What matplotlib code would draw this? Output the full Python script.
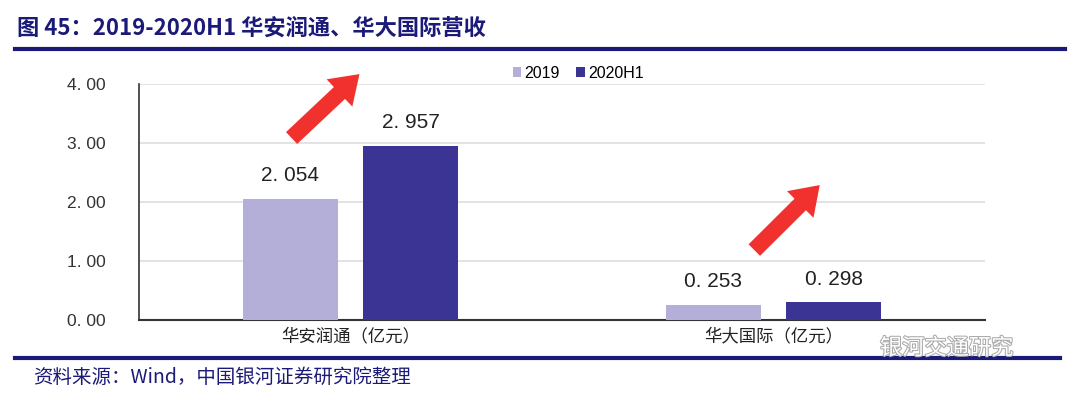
import numpy as np
import matplotlib.pyplot as plt
import matplotlib.patheffects as pe

plt.rcParams['font.family'] = ['Noto Sans CJK SC', 'DejaVu Sans']
num_font = ['Liberation Sans', 'DejaVu Sans']

categories = ['华安润通（亿元）', '华大国际（亿元）']
series_names = ['2019', '2020H1']
values_2019 = [2.054, 0.253]
values_2020h1 = [2.957, 0.298]
yticks = [0.0, 1.0, 2.0, 3.0, 4.0]

c_light = '#b4afd8'
c_dark = '#3b3494'
navy = '#1c1a78'

fig = plt.figure(figsize=(10.8, 3.97), dpi=100)
ax = fig.add_axes([139 / 1080, 1 - 320 / 397, 846 / 1080, 236 / 397])

x = np.arange(len(categories))
w = 0.225
off = 0.142
b1 = ax.bar(x - off, values_2019, w, color=c_light, label=series_names[0], zorder=3)
b2 = ax.bar(x + off, values_2020h1, w, color=c_dark, label=series_names[1], zorder=3)

for bars, vals in [(b1, values_2019), (b2, values_2020h1)]:
    for r, v in zip(bars, vals):
        ax.annotate('{:.3f}'.format(v).replace('.', '. '),
                    (r.get_x() + r.get_width() / 2, v),
                    xytext=(0, 10), textcoords='offset points',
                    ha='center', va='bottom', fontsize=15, color='#222222',
                    family=num_font)

ax.set_xlim(-0.5, 1.5)
ax.set_ylim(0, 4)
ax.set_yticks(yticks)
ax.set_yticklabels(['{:.2f}'.format(t).replace('.', '. ') for t in yticks],
                   fontsize=12.5, color='#333333', family=num_font)
ax.set_xticks(x)
ax.set_xticklabels(categories, fontsize=12.5, color='#222222')
ax.tick_params(axis='both', length=0)
ax.tick_params(axis='y', pad=24)
ax.tick_params(axis='x', pad=5)
ax.grid(axis='y', color='#dedede', linewidth=1.2, zorder=0)
for s in ['top', 'right']:
    ax.spines[s].set_visible(False)
ax.spines['left'].set_color('#333333')
ax.spines['bottom'].set_color('#333333')
ax.spines['left'].set_linewidth(1.2)
ax.spines['bottom'].set_linewidth(1.5)

# red arrows showing growth
for (x0, y0), (x1, y1) in [((0.178, 0.763), (0.263, 1.05)),
                           ((0.725, 0.288), (0.807, 0.58))]:
    ax.annotate('', xy=(x1, y1), xytext=(x0, y0), xycoords='axes fraction',
                annotation_clip=False,
                arrowprops=dict(arrowstyle='simple,head_length=1.1,head_width=1.5,tail_width=0.65',
                                mutation_scale=18, color='#f0312d', lw=0))

fig.legend(handles=[b1, b2], labels=series_names, loc='center',
           bbox_to_anchor=(578 / 1080, 1 - 73 / 397), ncol=2, frameon=False,
           fontsize=11.5, handlelength=0.55, handleheight=0.55, handletextpad=0.2,
           columnspacing=1.0, prop={'family': num_font, 'size': 11.5})

fig.text(17 / 1080, 1 - 28 / 397, '图 45：2019-2020H1 华安润通、华大国际营收',
         fontsize=16, fontweight='bold', color=navy, va='center', ha='left')
fig.add_artist(plt.Line2D([15 / 1080, 1065 / 1080], [1 - 49 / 397] * 2,
                          color=navy, linewidth=3))
fig.add_artist(plt.Line2D([15 / 1080, 1060 / 1080], [1 - 358 / 397] * 2,
                          color=navy, linewidth=3))
fig.text(33 / 1080, 1 - 377 / 397, '资料来源：Wind，中国银河证券研究院整理',
         fontsize=14, color=navy, va='center', ha='left', style='italic')
fig.text(880 / 1080, 1 - 348 / 397, '银河交通研究', fontsize=16, color='white',
         va='center', ha='left',
         path_effects=[pe.withStroke(linewidth=1.5, foreground='#aaaaaa')])

fig.savefig('out.png', dpi=100)
